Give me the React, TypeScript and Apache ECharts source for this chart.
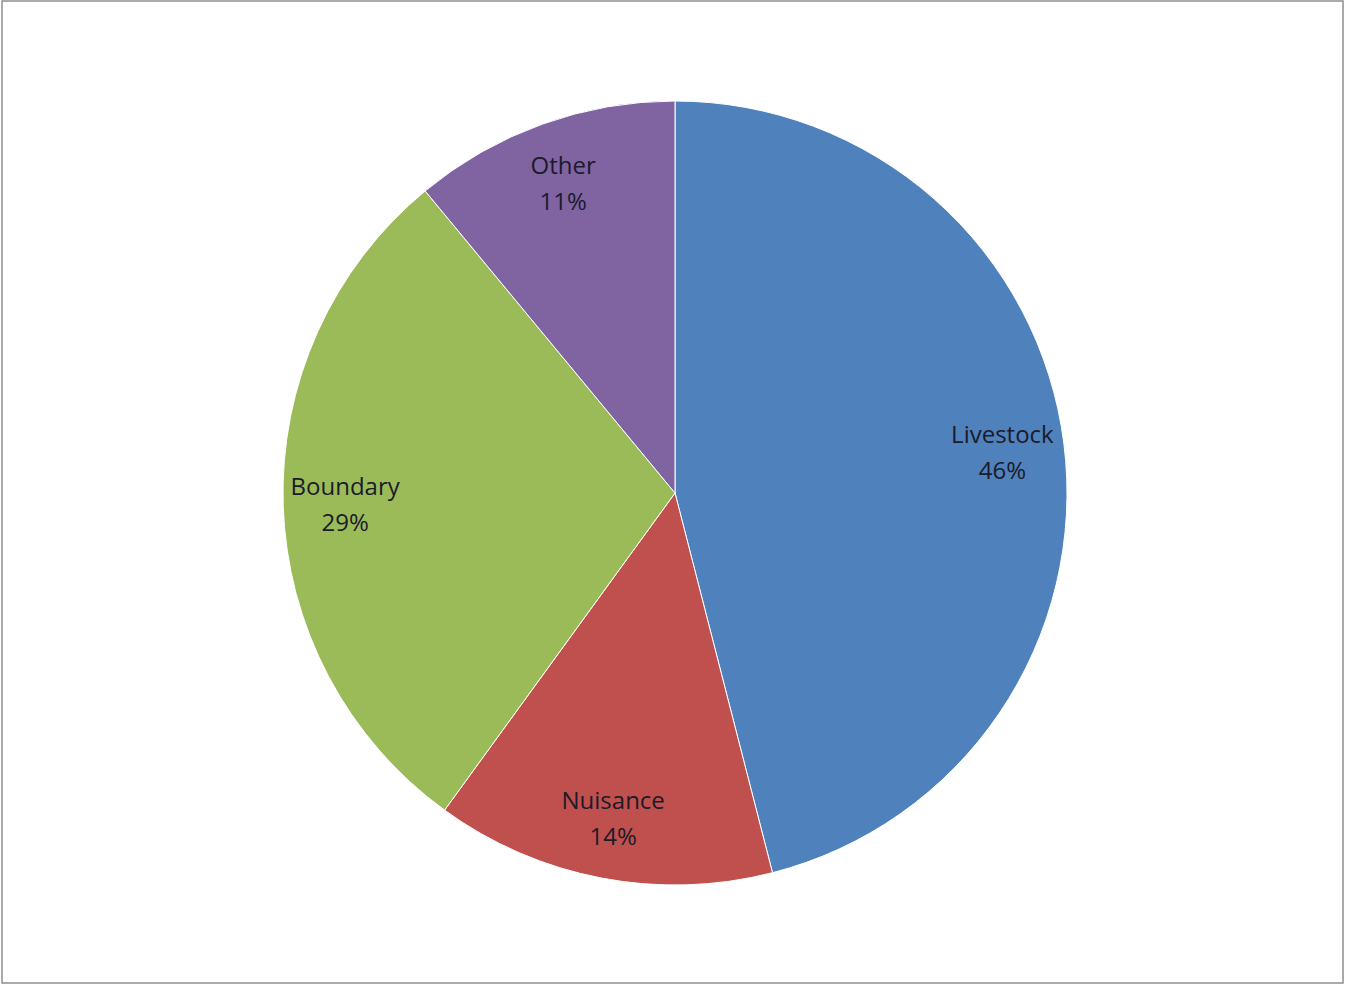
import React, { useEffect, useRef } from "react";
import * as echarts from "echarts";

const categories = ["Livestock", "Nuisance", "Boundary", "Other"];
const values = [46, 14, 29, 11];
const colors = ["#4F81BD", "#C0504D", "#9BBB59", "#8064A2"];

export default function App() {
  const ref = useRef<HTMLDivElement>(null);
  useEffect(() => {
    document.body.style.margin = "0";
    const chart = echarts.init(ref.current!, null, { renderer: "svg" });
    const data = categories.map((name, i) => ({
      name,
      value: values[i],
      itemStyle: { color: colors[i] },
    }));
    chart.setOption({
      animation: false,
      backgroundColor: "#ffffff",
      graphic: [
        {
          type: "rect",
          shape: { x: 2, y: 1, width: 1341, height: 982 },
          style: { fill: "none", stroke: "#8f8f8f", lineWidth: 1.5 },
          silent: true,
        },
      ],
      series: [
        {
          type: "pie",
          center: [675, 493],
          radius: [0, 392],
          startAngle: 90,
          clockwise: true,
          label: { show: false },
          labelLine: { show: false },
          itemStyle: { borderColor: "#ffffff", borderWidth: 1 },
          emphasis: { disabled: true },
          silent: true,
          data,
        },
        {
          type: "pie",
          center: [675, 493],
          radius: [262, 392],
          startAngle: 90,
          clockwise: true,
          silent: true,
          emphasis: { disabled: true },
          itemStyle: { color: "rgba(0,0,0,0)", borderWidth: 0 },
          labelLine: { show: false },
          label: {
            show: true,
            position: "inside",
            formatter: (p: any) => `${p.name}\n${p.value}%`,
            fontFamily: "Open Sans, Lato, sans-serif",
            fontSize: 24,
            lineHeight: 36,
            color: "#1b1b2a",
          },
          data: categories.map((name, i) => ({ name, value: values[i] })),
        },
      ],
    });
    return () => chart.dispose();
  }, []);
  return <div ref={ref} style={{ width: 1345, height: 985 }} />;
}
